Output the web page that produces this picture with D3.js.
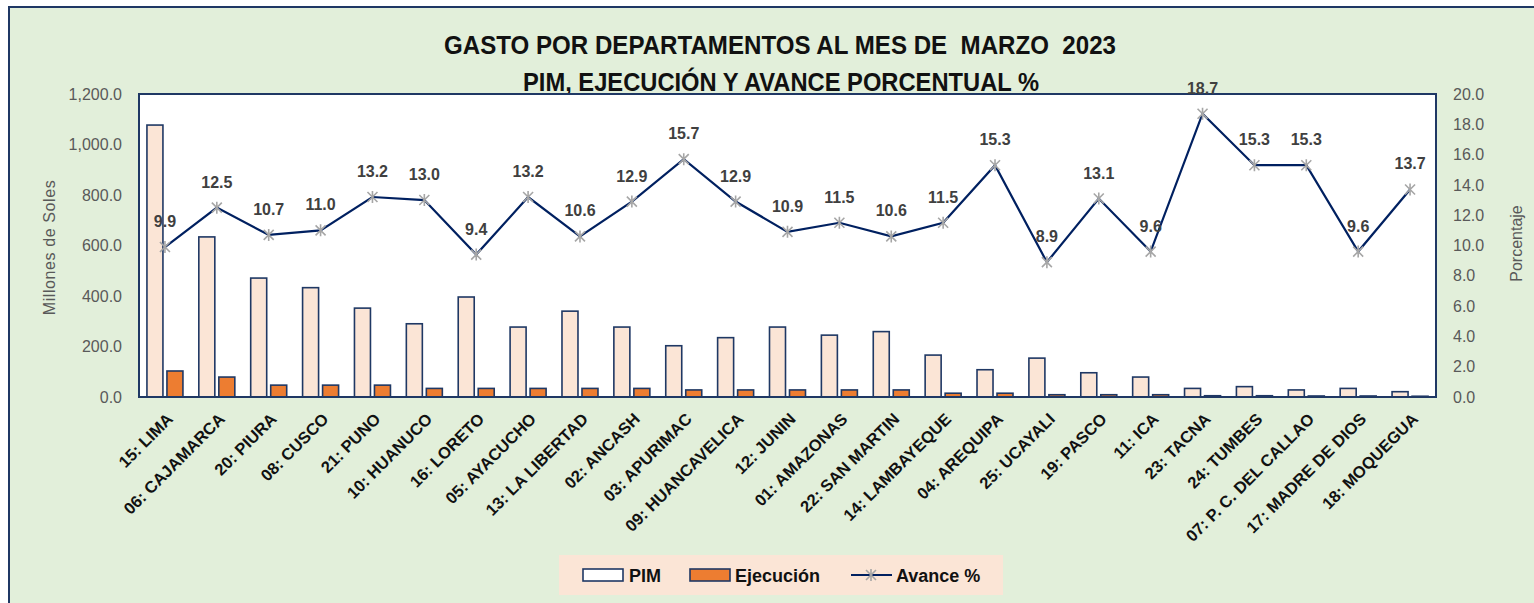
<!DOCTYPE html>
<html>
<head>
<meta charset="utf-8">
<script src="https://cdnjs.cloudflare.com/ajax/libs/d3/7.8.5/d3.min.js"></script>
<style>
  body { margin: 0; background: #fff; }
  svg text { font-family: "Liberation Sans", Arial, sans-serif; }
</style>
</head>
<body>
<div id="chart"></div>
<script>
var departamentos = ["15: LIMA", "06: CAJAMARCA", "20: PIURA", "08: CUSCO", "21: PUNO", "10: HUANUCO",
  "16: LORETO", "05: AYACUCHO", "13: LA LIBERTAD", "02: ANCASH", "03: APURIMAC", "09: HUANCAVELICA",
  "12: JUNIN", "01: AMAZONAS", "22: SAN MARTIN", "14: LAMBAYEQUE", "04: AREQUIPA", "25: UCAYALI",
  "19: PASCO", "11: ICA", "23: TACNA", "24: TUMBES", "07: P. C. DEL CALLAO", "17: MADRE DE DIOS", "18: MOQUEGUA"]
var pim = [1077, 634, 471, 433, 352, 290, 396, 277, 340, 277, 203, 235, 277, 245, 259, 166, 108, 154, 96, 79, 34, 41, 28, 34, 21]
var ejecucion = [103, 79, 47, 47, 47, 34, 34, 34, 34, 34, 28, 28, 28, 28, 28, 15, 15, 9, 9, 9, 5, 5, 4, 4, 3]
var avance = [9.9, 12.5, 10.7, 11.0, 13.2, 13.0, 9.4, 13.2, 10.6, 12.9, 15.7, 12.9, 10.9, 11.5, 10.6, 11.5, 15.3, 8.9, 13.1, 9.6, 18.7, 15.3, 15.3, 9.6, 13.7]
var leftTicks = [0, 200, 400, 600, 800, 1000, 1200]
var rightTicks = [0, 2, 4, 6, 8, 10, 12, 14, 16, 18, 20]

var W = 1534, H = 603
var m = {left: 139, right: 1436, top: 94, bottom: 397}
var navy = "#1f3864"

var svg = d3.select('#chart').append('svg')
  .attr('width', W).attr('height', H)

// fondo verde con borde
svg.append('rect').attr('x', 9).attr('y', 7).attr('width', W).attr('height', H)
  .attr('fill', '#e2efda')
svg.append('path').attr('d', 'M9,' + H + 'L9,7L' + W + ',7')
  .attr('fill', 'none').attr('stroke', navy).attr('stroke-width', 2)

// titulo
svg.append('text').attr('x', 780).attr('y', 54).attr('text-anchor', 'middle')
  .attr('font-size', 26).attr('font-weight', 'bold').attr('fill', '#111')
  .style('white-space', 'pre')
  .attr('textLength', 672).attr('lengthAdjust', 'spacingAndGlyphs')
  .text('GASTO POR DEPARTAMENTOS AL MES DE  MARZO  2023')
svg.append('text').attr('x', 781).attr('y', 91).attr('text-anchor', 'middle')
  .attr('font-size', 26).attr('font-weight', 'bold').attr('fill', '#111')
  .attr('textLength', 516).attr('lengthAdjust', 'spacingAndGlyphs')
  .text('PIM, EJECUCIÓN Y AVANCE PORCENTUAL %')

var x = d3.scaleBand().domain(departamentos).range([m.left, m.right])
var yL = d3.scaleLinear().domain([0, 1200]).range([m.bottom, m.top])
var yR = d3.scaleLinear().domain([0, 20]).range([m.bottom, m.top])

// area de trazado
svg.append('rect').attr('x', m.left).attr('y', m.top)
  .attr('width', m.right - m.left).attr('height', m.bottom - m.top)
  .attr('fill', '#fff')

// ejes
var axL = svg.append('g').attr('transform', 'translate(' + m.left + ',0)')
  .call(d3.axisLeft(yL).tickValues(leftTicks).tickFormat(d3.format(',.1f')).tickSize(0).tickPadding(17))
var axR = svg.append('g').attr('transform', 'translate(' + m.right + ',0)')
  .call(d3.axisRight(yR).tickValues(rightTicks).tickFormat(d3.format('.1f')).tickSize(0).tickPadding(17))
svg.selectAll('.domain').remove()
svg.selectAll('.tick text').attr('font-size', 16).attr('fill', '#595959')
  .style('font-family', '"Liberation Sans", sans-serif')

var axB = svg.append('g').attr('transform', 'translate(0,' + m.bottom + ')')
  .call(d3.axisBottom(x).tickSize(0))
axB.select('.domain').remove()
axB.selectAll('.tick text')
  .attr('font-size', 16.5).attr('font-weight', 'bold').attr('fill', '#111')
  .attr('text-anchor', 'end')
  .attr('transform', 'translate(5,19) rotate(-45)')
  .attr('dy', '0.35em').attr('y', 0)

// titulos de ejes
svg.append('text').attr('transform', 'translate(55,' + ((m.top + m.bottom) / 2 + 2) + ') rotate(-90)')
  .attr('text-anchor', 'middle').attr('font-size', 16).attr('fill', '#595959')
  .attr('letter-spacing', 0.6)
  .text('Millones de Soles')
svg.append('text').attr('transform', 'translate(1522,' + ((m.top + m.bottom) / 2 - 2) + ') rotate(-90)')
  .attr('text-anchor', 'middle').attr('font-size', 16).attr('fill', '#595959')
  .text('Porcentaje')

// barras
var bw = 16, gap = 4
svg.selectAll('.pim').data(pim).enter().append('rect')
  .attr('class', 'pim')
  .attr('x', function(d, i){ return x(departamentos[i]) + x.bandwidth() / 2 - bw - gap / 2 })
  .attr('y', function(d){ return yL(d) })
  .attr('width', bw)
  .attr('height', function(d){ return m.bottom - yL(d) })
  .attr('fill', '#fbe5d6').attr('stroke', navy).attr('stroke-width', 1.6)
svg.selectAll('.ejec').data(ejecucion).enter().append('rect')
  .attr('class', 'ejec')
  .attr('x', function(d, i){ return x(departamentos[i]) + x.bandwidth() / 2 + gap / 2 })
  .attr('y', function(d){ return yL(d) })
  .attr('width', bw)
  .attr('height', function(d){ return m.bottom - yL(d) })
  .attr('fill', '#ed7d31').attr('stroke', navy).attr('stroke-width', 1.6)

// marco del area de trazado
svg.append('rect').attr('x', m.left).attr('y', m.top)
  .attr('width', m.right - m.left).attr('height', m.bottom - m.top)
  .attr('fill', 'none').attr('stroke', navy).attr('stroke-width', 2)

// linea avance
var cx = function(d, i){ return x(departamentos[i]) + x.bandwidth() / 2 }
var line = d3.line().x(cx).y(function(d){ return yR(d) })
svg.append('path').datum(avance).attr('d', line)
  .attr('fill', 'none').attr('stroke', '#002060').attr('stroke-width', 2.2)

var star = 'M-5,-5L5,5M-5,5L5,-5M0,-6L0,6'
svg.selectAll('.mk').data(avance).enter().append('path')
  .attr('class', 'mk')
  .attr('d', star)
  .attr('transform', function(d, i){ return 'translate(' + cx(d, i) + ',' + yR(d) + ')' })
  .attr('stroke', '#a6a6a6').attr('stroke-width', 1.6).attr('fill', 'none')

svg.selectAll('.lbl').data(avance).enter().append('text')
  .attr('class', 'lbl')
  .attr('x', cx)
  .attr('y', function(d){ return yR(d) - 20 })
  .attr('text-anchor', 'middle').attr('font-size', 16).attr('font-weight', 'bold')
  .attr('fill', '#404040')
  .text(function(d){ return d3.format('.1f')(d) })

// leyenda
var lg = svg.append('g')
lg.append('rect').attr('x', 559).attr('y', 555).attr('width', 444).attr('height', 40).attr('fill', '#fbe5d6')
lg.append('rect').attr('x', 583).attr('y', 569).attr('width', 40).attr('height', 12)
  .attr('fill', '#fff').attr('stroke', navy).attr('stroke-width', 1.6)
lg.append('text').attr('x', 629).attr('y', 582).attr('font-size', 18).attr('font-weight', 'bold').attr('fill', '#111').text('PIM')
lg.append('rect').attr('x', 690).attr('y', 569).attr('width', 40).attr('height', 12)
  .attr('fill', '#ed7d31').attr('stroke', navy).attr('stroke-width', 1.6)
lg.append('text').attr('x', 735).attr('y', 582).attr('font-size', 18).attr('font-weight', 'bold').attr('fill', '#111').text('Ejecución')
lg.append('line').attr('x1', 851).attr('x2', 892).attr('y1', 575).attr('y2', 575)
  .attr('stroke', '#002060').attr('stroke-width', 2.2)
lg.append('path').attr('d', star).attr('transform', 'translate(871,575)')
  .attr('stroke', '#a6a6a6').attr('stroke-width', 1.6).attr('fill', 'none')
lg.append('text').attr('x', 896).attr('y', 582).attr('font-size', 18).attr('font-weight', 'bold').attr('fill', '#111').text('Avance %')
</script>
</body>
</html>
